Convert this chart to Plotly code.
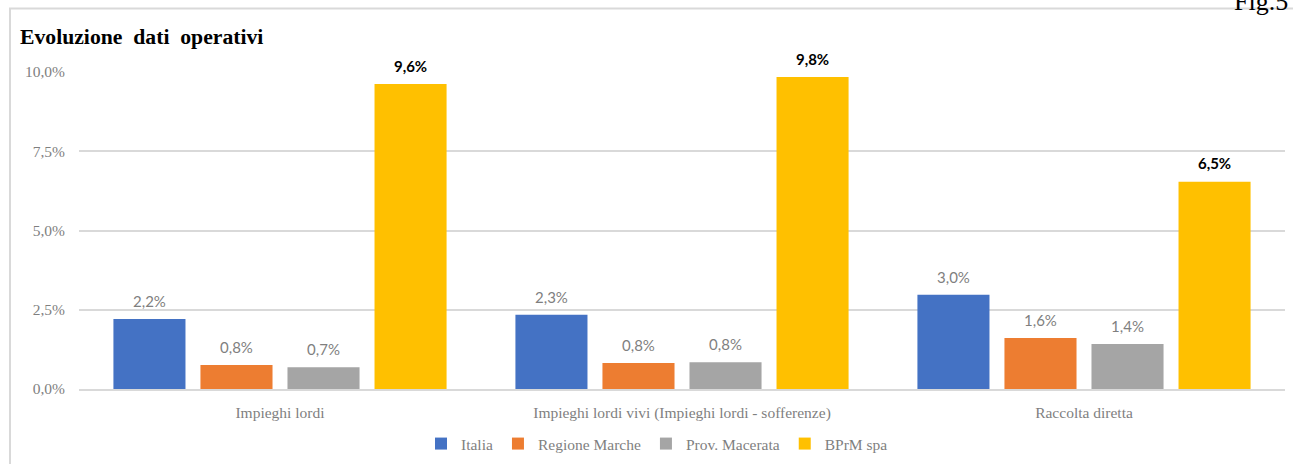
import plotly.graph_objects as go

categories = ["Impieghi lordi", "Impieghi lordi vivi (Impieghi lordi - sofferenze)", "Raccolta diretta"]
italia = [2.21, 2.34, 2.97]
regione_marche = [0.76, 0.82, 1.61]
prov_macerata = [0.69, 0.84, 1.42]
bprm = [9.62, 9.84, 6.54]
y_ticks = [0, 2.5, 5.0, 7.5, 10.0]
y_tick_labels = ["0,0%", "2,5%", "5,0%", "7,5%", "10,0%"]

series = [
    ("Italia", italia, "#4472C4", False),
    ("Regione Marche", regione_marche, "#ED7D31", False),
    ("Prov. Macerata", prov_macerata, "#A5A5A5", False),
    ("BPrM spa", bprm, "#FFC000", True),
]

BARGAP = 0.134
SERIF = "Liberation Serif, Times New Roman, serif"
GREY = "#7f7f7f"

fig = go.Figure()
for i, (name, vals, color, bold) in enumerate(series):
    fig.add_trace(go.Bar(
        x=categories, y=vals, name=name, offsetgroup=str(i),
        marker=dict(color=color, line=dict(width=0)),
        hoverinfo="y+name",
    ))
for i, (name, vals, color, bold) in enumerate(series):
    fig.add_trace(go.Scatter(
        x=categories, y=vals, name=name, offsetgroup=str(i),
        mode="markers+text", showlegend=False, hoverinfo="skip",
        marker=dict(size=12, color="rgba(0,0,0,0)"),
        texttemplate=("<b>%{y:.1f}%</b>" if bold else "%{y:.1f}%"),
        textposition="top center", cliponaxis=False,
        textfont=dict(family="Lato, Open Sans, sans-serif", size=15,
                      color="#000000" if bold else GREY),
    ))

L, R, T, B = 79, 8, 72, 75
W, H = 1293, 464
pw, ph = W - L - R, H - T - B

def px(x):
    return (x - L) / pw

def py(y):
    return (H - B - y) / ph

fig.update_layout(
    width=W, height=H,
    margin=dict(l=L, r=R, t=T, b=B, autoexpand=False),
    paper_bgcolor="white", plot_bgcolor="white",
    separators=",.",
    barmode="group", bargap=BARGAP, bargroupgap=0.172,
    scattermode="group", scattergap=BARGAP,
    showlegend=True,
    legend=dict(orientation="h", x=px(657), xanchor="center", y=py(444), yanchor="middle",
                font=dict(family=SERIF, size=15.5, color=GREY),
                itemwidth=30, traceorder="normal"),
    shapes=[dict(type="rect", xref="paper", yref="paper",
                 x0=px(10), x1=1.2, y0=-0.6, y1=py(8.5),
                 line=dict(color="#d9d9d9", width=2), layer="below")],
    annotations=[
        dict(text="<b>Evoluzione  dati  operativi</b>", xref="paper", yref="paper",
             x=px(18), y=py(37), xanchor="left", yanchor="middle", showarrow=False,
             font=dict(family=SERIF, size=21.7, color="#000000")),
        dict(text="Fig.5", xref="paper", yref="paper",
             x=px(1232), y=py(18), xanchor="left", yanchor="bottom", showarrow=False,
             font=dict(family=SERIF, size=26, color="#000000")),
    ],
)
fig.update_yaxes(range=[0, 10], tickvals=y_ticks, ticktext=y_tick_labels,
                 showgrid=True, gridcolor="#d9d9d9", gridwidth=1.5, zeroline=False,
                 showline=False, ticks="", ticklabelstandoff=13,
                 tickfont=dict(family=SERIF, size=15.5, color=GREY))
fig.update_xaxes(showline=True, linecolor="#d9d9d9", linewidth=1.5, ticks="",
                 ticklabelstandoff=9,
                 tickfont=dict(family=SERIF, size=15.5, color=GREY))

fig.write_html("out.html", config={"displayModeBar": False},
               post_script="document.body.style.margin='0';")
